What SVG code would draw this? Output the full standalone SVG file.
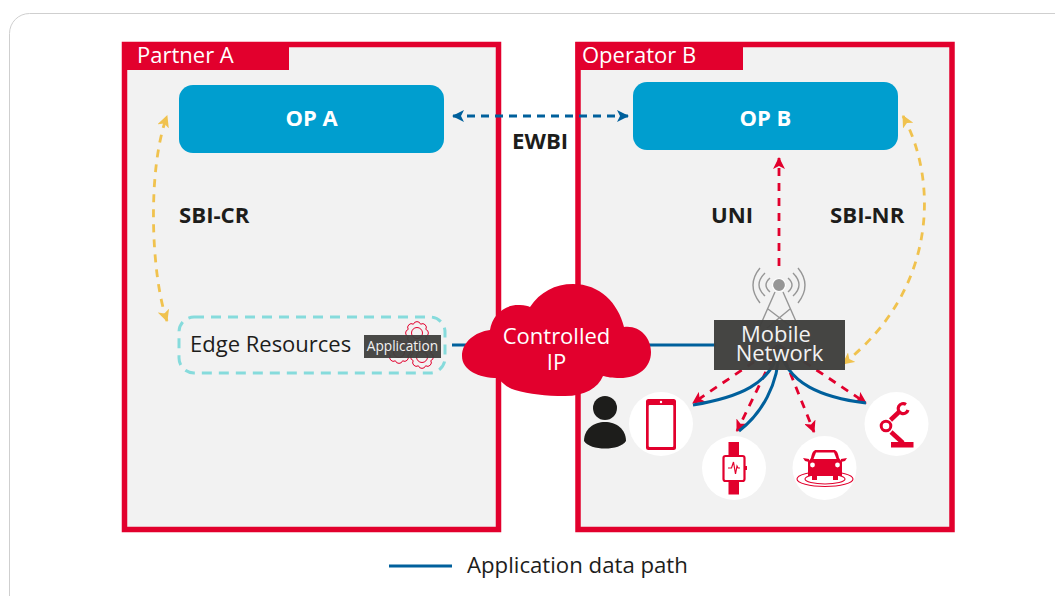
<svg xmlns="http://www.w3.org/2000/svg" width="1055" height="596" viewBox="0 0 1055 596">
<defs>
<style>
text{font-family:"Open Sans","Noto Sans","Liberation Sans",sans-serif}
.zone{fill:#f2f2f2;stroke:#e2002d;stroke-width:5.5}
.tab{fill:#e2002d}
.tabt{fill:#fff;font-size:22px}
.op{fill:#009ecf}
.opt{fill:#fff;font-size:22px;font-weight:700;text-anchor:middle}
.lbl{fill:#1d1d1b;font-size:22.2px;font-weight:700}
.yel{fill:none;stroke:#f0c24e;stroke-width:2.8;stroke-dasharray:8 7}
.red{fill:none;stroke:#e2002d;stroke-width:2.8;stroke-dasharray:8 7}
.blu{fill:none;stroke:#00609c;stroke-width:3}
.dark{fill:#3f3f3d;fill-opacity:.97}
.disc{fill:#fff}
.ic{fill:#e2002d}
.icl{fill:none;stroke:#e2002d}
.gear{fill:none;stroke:#e2002d;stroke-width:1}
.tw{fill:none;stroke:#969696;stroke-width:1.4}
</style>
<marker id="ay" markerWidth="14" markerHeight="12" refX="11" refY="6" orient="auto-start-reverse" markerUnits="userSpaceOnUse"><path d="M0 0L12 6L0 12L3 6Z" fill="#f0c24e"/></marker>
<marker id="ar" markerWidth="14" markerHeight="12" refX="11" refY="6" orient="auto" markerUnits="userSpaceOnUse"><path d="M0 0L12 6L0 12L3 6Z" fill="#e2002d"/></marker>
<marker id="ab" markerWidth="14" markerHeight="12" refX="11" refY="6" orient="auto-start-reverse" markerUnits="userSpaceOnUse"><path d="M0 0L12 6L0 12L3 6Z" fill="#00609c"/></marker>
<g id="gear"><path class="gear" d="M8.800 3.600A3.800 3.800 0 0 1 3.600 8.800A3.800 3.800 0 0 1 -3.600 8.800A3.800 3.800 0 0 1 -8.800 3.600A3.800 3.800 0 0 1 -8.800 -3.600A3.800 3.800 0 0 1 -3.600 -8.800A3.800 3.800 0 0 1 3.600 -8.800A3.800 3.800 0 0 1 8.800 -3.600A3.800 3.800 0 0 1 8.800 3.600Z"/><circle class="gear" r="5.500"/></g>
</defs>
<rect x="9.500" y="13.500" width="1080" height="640" rx="20" fill="#fff" stroke="#cfcfcf" stroke-width="1"/>
<g id="partner-a">
<rect class="zone" x="124.500" y="44.500" width="374" height="485"/>
<rect class="tab" x="122" y="42" width="167" height="28"/>
<text class="tabt" x="137" y="63">Partner A</text>
</g>
<g id="operator-b">
<rect class="zone" x="578" y="44.500" width="374" height="485"/>
<rect class="tab" x="575.500" y="42" width="167.500" height="28"/>
<text class="tabt" x="582" y="63">Operator B</text>
</g>
<g id="connectors">
<path class="blu" d="M452 345H490"/>
<path class="blu" d="M640 345H716"/>
<path class="blu" d="M389 566H452"/>
<path class="yel" marker-start="url(#ay)" marker-end="url(#ay)" d="M167 321C151 275 147 170 167 116"/>
<path class="yel" marker-start="url(#ay)" marker-end="url(#ay)" d="M903 116C938 180 938 290 843 364"/>
<path fill="none" stroke="#00609c" stroke-width="2.800" stroke-dasharray="8 6" marker-start="url(#ab)" marker-end="url(#ab)" d="M453 116H628"/>
<path class="red" marker-end="url(#ar)" d="M779 266V158"/>
<path class="red" d="M779 345L693 403" marker-end="url(#ar)"/>
<path class="red" d="M779 345L737 431" marker-end="url(#ar)"/>
<path class="red" d="M779 345L814 432" marker-end="url(#ar)"/>
<path class="red" d="M779 345L866 403" marker-end="url(#ar)"/>
<path class="blu" d="M779 345C775 385 735 398 693 405"/>
<path class="blu" d="M779 345C780 385 760 415 739 431"/>
<path class="blu" d="M779 345C785 385 825 398 866 403"/>
</g>
<g id="op-a"><rect class="op" x="179" y="85" width="265" height="68" rx="14"/><text class="opt" x="311.500" y="126">OP A</text></g>
<g id="op-b"><rect class="op" x="633" y="82" width="265" height="68" rx="14"/><text class="opt" x="765.500" y="126">OP B</text></g>
<g id="labels">
<text class="lbl" x="512" y="149">EWBI</text>
<text class="lbl" x="179" y="223">SBI-CR</text>
<text class="lbl" x="711" y="223">UNI</text>
<text class="lbl" x="830" y="223">SBI-NR</text>
</g>
<g id="edge-resources">
<rect x="179" y="317" width="266" height="56" rx="15" fill="none" stroke="#86dbdc" stroke-width="3" stroke-dasharray="10 7"/>
<text x="190" y="352" font-size="22" fill="#1d1d1b">Edge Resources</text>
<use href="#gear" x="417" y="333"/>
<use href="#gear" x="399" y="352"/>
<use href="#gear" x="422" y="357"/>
<rect x="364" y="335" width="77" height="23" fill="#3f3f3d" fill-opacity=".95"/>
<text x="402.500" y="351" font-size="13.700" fill="#f2f2f2" text-anchor="middle">Application</text>
</g>
<g id="controlled-ip">
<path fill="#e2002d" d="M490 330C492 315 505 304 520 305C525 305 528 306 530 307C540 292 555 284 573 284C600 284 618 303 624 327C640 325 651 338 651 352C651 368 638 378 620 378C612 378 607 377 603 376C598 388 585 396 565 396C545 396 530 394 515 390C508 388 503 384 498 378C478 378 462 370 462 356C462 342 475 332 490 330Z"/>
<text x="556.500" y="344" font-size="22" fill="#fff" text-anchor="middle">Controlled</text>
<text x="556.500" y="370" font-size="22" fill="#fff" text-anchor="middle">IP</text>
</g>
<g id="mobile-network">
<g class="tw">
<circle cx="779" cy="285" r="6.500" fill="#969696" stroke="#fff" stroke-width="1.200"/>
<path d="M775 292L745 360M783 292L813 360M768 309L793 328M790 309L767 328"/>
<path d="M770 278Q762 285 770 292M765 273Q753 285 765 296M760 268Q746 285 760 303"/>
<path d="M788 278Q796 285 788 292M793 273Q805 285 793 296M798 268Q812 285 798 303"/>
</g>
<rect class="dark" x="714" y="320" width="131" height="50"/>
<text x="776" y="342" font-size="22" fill="#f2f2f2" text-anchor="middle">Mobile</text>
<text x="779.500" y="361" font-size="22" fill="#f2f2f2" text-anchor="middle">Network</text>
</g>
<g id="user">
<circle cx="605" cy="408" r="12" fill="#1d1d1b"/>
<path fill="#1d1d1b" d="M584 441C584 429 594 422 605 422C616 422 626 429 626 441C620 451 590 451 584 441Z"/>
</g>
<g id="phone">
<circle class="disc" cx="661" cy="424" r="32"/>
<rect class="ic" x="646" y="399" width="30" height="51" rx="2.500"/>
<rect x="648.700" y="405" width="24.600" height="42" rx="1" fill="#fff"/>
<circle cx="661" cy="402" r="1.200" fill="#fff"/>
</g>
<g id="watch">
<circle class="disc" cx="734" cy="468" r="32"/>
<path class="ic" d="M728.500 442H739V456H728.500ZM728.500 480H739V494.500H728.500Z"/>
<rect x="723.500" y="456" width="21" height="25" rx="2" fill="#fff" stroke="#e2002d" stroke-width="2.200"/>
<rect class="ic" x="745" y="466" width="2" height="4"/>
<path class="icl" stroke-width="1.200" d="M728 468H731.500L733.500 462L735.500 474L737 466L738 468H740"/>
</g>
<g id="car">
<circle class="disc" cx="824.500" cy="468" r="32"/>
<ellipse class="icl" stroke-width="1.100" cx="825" cy="479" rx="28" ry="7.500"/>
<ellipse class="icl" stroke-width="1.100" cx="825" cy="479" rx="20" ry="5"/>
<path class="ic" d="M816 450H834C836 450 838 452 839 458L842 462V476H838V480H833V476H817V480H812V476H808V462L811 458C812 452 814 450 816 450Z"/>
<path fill="#fff" d="M813.500 459L816 452.500H834L836.500 459Z"/>
<circle cx="812.500" cy="465" r="2.400" fill="#fff"/><circle cx="837.500" cy="465" r="2.400" fill="#fff"/>
<path class="ic" d="M803 458l6 1v3l-4-1zM847 458l-6 1v3l4-1z"/>
</g>
<g id="robot">
<circle class="disc" cx="896.500" cy="424" r="32"/>
<rect class="ic" x="891" y="442" width="22.500" height="5.500"/>
<path class="icl" stroke-width="4.500" d="M891 432L903 443"/>
<circle class="icl" stroke-width="3" cx="886" cy="426" r="4.800"/>
<path class="icl" stroke-width="4.500" d="M890.500 420L899 412"/>
<path class="icl" stroke-width="3.200" d="M906 404.500A5 5 0 1 0 908 410"/>
</g>
<g id="legend">
<text x="467" y="573" font-size="22.200" fill="#1d1d1b">Application data path</text>
</g>
</svg>
